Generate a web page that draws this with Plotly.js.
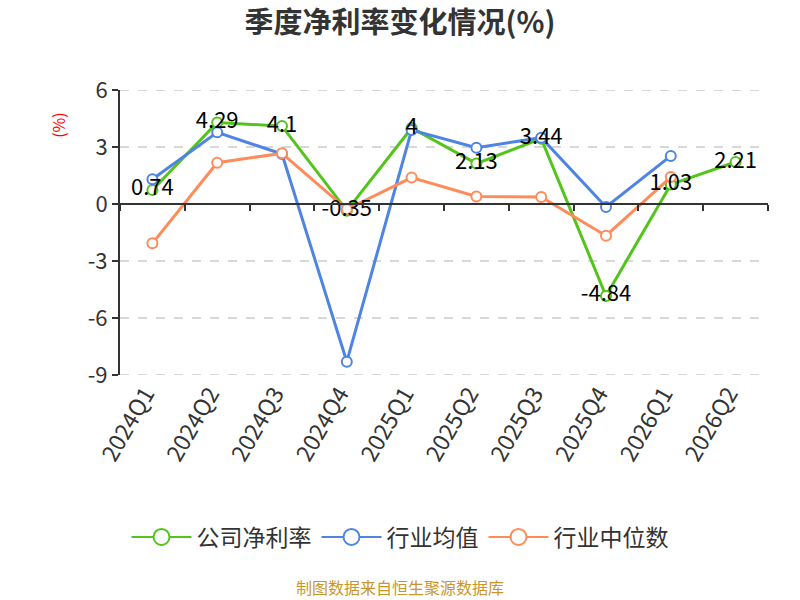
<!DOCTYPE html>
<html>
<head>
<meta charset="utf-8">
<script src="https://cdn.plot.ly/plotly-3.0.1.min.js"></script>
<style>
  html, body { margin: 0; padding: 0; background: #fff; }
  #chart { width: 800px; height: 600px; }
</style>
</head>
<body>
<div id="chart"></div>
<script>
const quarters = ['2024Q1', '2024Q2', '2024Q3', '2024Q4', '2025Q1', '2025Q2', '2025Q3', '2025Q4', '2026Q1', '2026Q2'];
const companyRate = [0.74, 4.29, 4.1, -0.35, 4, 2.13, 3.44, -4.84, 1.03, 2.21];
const industryAvg = [1.3, 3.77, 2.63, -8.3, 3.89, 2.96, 3.49, -0.16, 2.53, null];
const industryMedian = [-2.07, 2.17, 2.67, -0.28, 1.39, 0.4, 0.37, -1.67, 1.42, null];
const yTicks = [-9, -6, -3, 0, 3, 6];

const names = ['公司净利率', '行业均值', '行业中位数'];
const colors = ['#52c41a', '#4e84e3', '#ff8b5a'];

const font = '"Noto Sans CJK SC", "Noto Sans", sans-serif';

function series(i, y) {
    return {
        x: quarters,
        y: y,
        name: names[i],
        type: 'scatter',
        mode: 'lines+markers',
        line: { color: colors[i], width: 3 },
        marker: { symbol: 'circle', size: 10, color: '#fff', line: { color: colors[i], width: 2 } },
        showlegend: false,
        hoverinfo: 'x+y+name'
    };
}

// legend-only entries with larger symbols
function legendEntry(i) {
    return {
        x: [null], y: [null],
        name: names[i],
        type: 'scatter',
        mode: 'lines+markers',
        line: { color: colors[i], width: 2 },
        marker: { symbol: 'circle', size: 18, color: '#fff', line: { color: colors[i], width: 2 } },
        hoverinfo: 'skip'
    };
}

const data = [
    series(0, companyRate),
    series(1, industryAvg),
    series(2, industryMedian),
    {
        x: quarters, y: companyRate, type: 'scatter', mode: 'text',
        text: companyRate.map(v => String(v)),
        textposition: 'middle center',
        textfont: { family: font, size: 22, color: '#000' },
        showlegend: false, hoverinfo: 'skip'
    },
    // zero axis line with boundary ticks
    { x: quarters, y: companyRate, xaxis: 'x2', type: 'scatter', mode: 'none', showlegend: false, hoverinfo: 'skip' },
    legendEntry(0),
    legendEntry(1),
    legendEntry(2)
];

const gridShapes = yTicks.filter(v => v !== 0).map(v => ({
    type: 'line', layer: 'below',
    xref: 'paper', x0: 0, x1: 1,
    yref: 'y', y0: v, y1: v,
    line: { color: '#cccccc', width: 1.5, dash: 'dash' }
}));

const layout = {
    width: 800,
    height: 600,
    margin: { l: 120, r: 32, t: 90, b: 225 },
    paper_bgcolor: '#fff',
    plot_bgcolor: '#fff',
    font: { family: font, color: '#333' },
    title: {
        text: '<b>季度净利率变化情况(%)</b>',
        font: { family: font, size: 29, color: '#333' },
        x: 0.5, xanchor: 'center', y: 0.962, yanchor: 'middle'
    },
    xaxis: {
        type: 'category',
        categoryorder: 'array',
        categoryarray: quarters,
        range: [-0.5, 9.5],
        showline: false,
        showgrid: false,
        zeroline: false,
        ticks: '',
        tickangle: -60,
        ticklabelshift: -7,
        tickfont: { family: font, size: 23, color: '#333' }
    },
    xaxis2: {
        type: 'category',
        categoryorder: 'array',
        categoryarray: quarters,
        overlaying: 'x',
        matches: 'x',
        anchor: 'free',
        position: 0.6,
        side: 'bottom',
        showline: true,
        linecolor: '#333',
        linewidth: 2,
        ticks: 'outside',
        tickson: 'boundaries',
        ticklen: 6,
        tickwidth: 2,
        tickcolor: '#333',
        showticklabels: false,
        showgrid: false,
        zeroline: false
    },
    yaxis: {
        range: [-9, 6],
        tickvals: yTicks,
        ticktext: yTicks.map(v => String(v)),
        showline: true,
        linecolor: '#333',
        linewidth: 2,
        ticks: 'outside',
        ticklen: 6,
        tickwidth: 2,
        tickcolor: '#333',
        tickfont: { family: font, size: 22, color: '#333' },
        showgrid: false,
        zeroline: false
    },
    shapes: gridShapes,
    legend: {
        orientation: 'h',
        xref: 'container', yref: 'container',
        x: 0.5, xanchor: 'center',
        y: 0.105, yanchor: 'middle',
        font: { family: font, size: 23, color: '#333' },
        itemwidth: 60,
        traceorder: 'normal'
    },
    annotations: [
        {
            text: '(%)', textangle: -90,
            xref: 'paper', yref: 'paper', x: -0.096, y: 0.877,
            xanchor: 'center', yanchor: 'middle',
            showarrow: false,
            font: { family: font, size: 16, color: '#ff0000' }
        },
        {
            text: '制图数据来自恒生聚源数据库',
            xref: 'paper', yref: 'paper', x: 0.432, y: -0.744,
            xanchor: 'center', yanchor: 'middle',
            showarrow: false,
            font: { family: font, size: 16, color: '#c9962c' }
        }
    ],
    showlegend: true
};

Plotly.newPlot('chart', data, layout, { displayModeBar: false, staticPlot: true });
</script>
</body>
</html>
